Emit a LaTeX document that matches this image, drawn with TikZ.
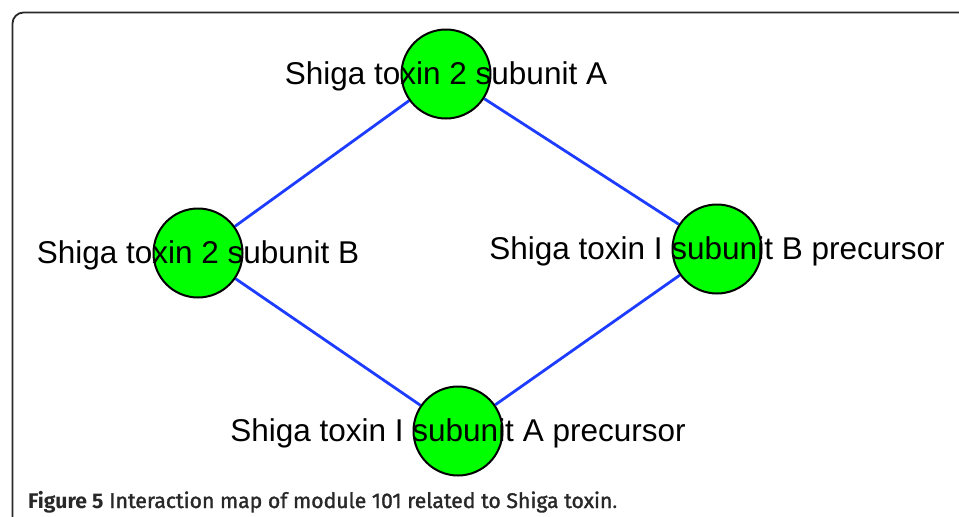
\documentclass[tikz,border=0pt]{standalone}
\usepackage{fontspec}
\setmainfont{Liberation Sans}
\newfontfamily\capfont{Fira Sans}
\newfontfamily\capmed[FakeBold=1.5]{Fira Sans}
\usetikzlibrary{positioning, backgrounds}
\definecolor{edgeblue}{RGB}{30,60,255}
\definecolor{nodegreen}{RGB}{0,255,0}
\definecolor{framegray}{RGB}{40,40,40}
\tikzset{
prot/.style={circle, draw=black, line width=2pt, fill=nodegreen, minimum size=89pt, inner sep=0pt}, % the green protein nodes
lbl/.style={font=\fontsize{31.5}{32}\selectfont, text=black, inner sep=0pt, anchor=base, yshift=-10.5pt}, % text over the nodes
link/.style={draw=edgeblue, line width=2.8pt}, % interactions
}

\begin{document}
\begin{tikzpicture}[x=1pt, y=-1pt]
    \useasboundingbox (0,0) rectangle (959,517);
    \draw[framegray, line width=1.8pt, rounded corners=11pt] (12.5,517) -- (12.5,12.5) -- (959,12.5);

      \node[prot] (s2a) at (446,74) {};
      \node[prot] (s2b) at (198,253) {};
      \node[prot] (s1b) at (717,249) {};
      \node[prot] (s1a) at (458,431) {};

    \begin{scope}[on background layer]
      \draw[link] (s2a) -- (s2b);
      \draw[link] (s2a) -- (s1b);
      \draw[link] (s2b) -- (s1a);
      \draw[link] (s1b) -- (s1a);
    \end{scope}

      \node[lbl] (l2a) at (s2a) {Shiga toxin 2 subunit A};
      \node[lbl] (l2b) at (s2b) {Shiga toxin 2 subunit B};
      \node[lbl] (l1b) at (s1b) {Shiga toxin I subunit B precursor};
      \node[lbl] (l1a) at (s1a) {Shiga toxin I subunit A precursor};

      \node[anchor=base west, inner sep=0pt, text=framegray, font=\fontsize{21.2}{23}\selectfont] (cap) at (28,508)
        {{\capfont\bfseries Figure 5} {\capmed Interaction map of module 101 related to Shiga toxin}{\capfont .}};
\end{tikzpicture}
\end{document}
